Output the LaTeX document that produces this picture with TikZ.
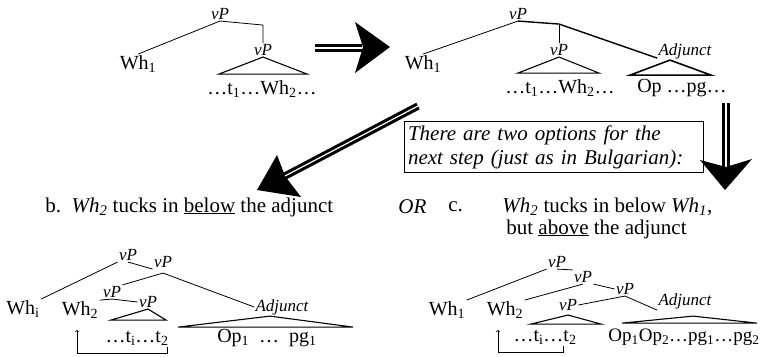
\documentclass[tikz,border=0pt]{standalone}
\usepackage{fontspec}
\setmainfont{Liberation Serif}
\usetikzlibrary{calc}
\newcommand{\sbs}[1]{\textsubscript{#1}}
\tikzset{
  lbl/.style={font=\fontsize{17}{17}\selectfont\itshape, inner sep=1},
  wd/.style={font=\fontsize{20}{20}\selectfont, inner sep=1},
  txt/.style={font=\fontsize{21}{21}\selectfont, inner sep=0},
  tri/.style={draw, line width=1.1, line join=miter},
  shaft/.style={line width=3.1, double=white, double distance=1.2},
  head/.style={fill=black},
  mv/.style={->, line width=0.7},
}

\begin{document}
\begin{tikzpicture}[x=1pt, y=-1pt, line width=0.8]
    \useasboundingbox (0,0) rectangle (767,356);

    % Top left tree
    \node[lbl] (vpA) at (220,14) {vP};
    \node[wd] (whA) at (138,64) {Wh\sbs{1}};
    \node[lbl] (vpB) at (263,50) {vP};
    \node[wd] (tA) at (262,89) {\ldots t\sbs{1}\ldots Wh\sbs{2}\ldots};
    \draw (whA.north) -- (vpA.south) -- ($(vpA.south -| vpB.north)+(0,4)$) -- (vpB.north);
    \draw[tri] (vpB.south) -- ++(-44,17) -- ++(88,0) -- cycle;

    % First arrow
    \coordinate (a1s) at (315,48);
    \coordinate (a1t) at (390,47);
    \draw[shaft] (a1s) -- (362,48);
    \fill[head] (a1t) -- (355,22) -- (363,47) -- (355,73) -- cycle;

    % Top right tree
    \node[lbl] (vpC) at (518,14) {vP};
    \node[wd] (whC) at (423,64) {Wh\sbs{1}};
    \node[lbl] (vpD) at (559,50) {vP};
    \node[lbl] (adjC) at (685,51) {Adjunct};
    \node[wd] (tC) at (560,88) {\ldots t\sbs{1}\ldots Wh\sbs{2}\ldots};
    \node[wd] (opC) at (682,88) {Op \ldots pg\ldots};
    \draw (whC.north) -- (vpC.south);
    \draw[line width=1.4] (vpC.south) -- ($(vpC.south -| vpD.north)+(0,3)$) coordinate (jC) -- ([yshift=2]adjC.south west);
    \draw (jC) -- (vpD.north);
    \draw[tri] (vpD.south) -- ++(-41,16) -- ++(81,0) -- cycle;
    \draw[tri, line width=1.6] ([xshift=-15]adjC.south) -- ++(-40,15) -- ++(81,0) -- cycle;

    % Diagonal arrow
    \coordinate (a2s) at (418,106);
    \coordinate (a2t) at (257,190);
    \draw[shaft] (a2s) -- (285,176);
    \fill[head] (a2t) -- (277,155) -- (285,176) -- (301,197) -- cycle;

    % Box
    \node[draw, line width=0.8, font=\fontsize{21}{24}\selectfont\itshape, align=left,
          inner sep=4, minimum width=299, minimum height=50, text width=291] (box) at (553.5,147)
          {There are two options for the\\ next step (just as in Bulgarian):};

    % Down arrow
    \coordinate (a3s) at (726,103);
    \coordinate (a3t) at (725,190);
    \draw[shaft] (a3s) -- (726,167);
    \fill[head] (a3t) -- (700,160) -- (726,167) -- (752,159) -- cycle;

    % Options
    \node[txt, anchor=west] (bLine) at (45,207) {b.\ \ \textit{Wh\sbs{2}} tucks in \underline{below} the adjunct};
    \node[txt, anchor=west, font=\fontsize{21}{21}\selectfont\itshape] (orL) at (398,207) {OR};
    \node[txt, anchor=west] (cL) at (448,207) {c.};
    \node[txt, anchor=west] (cLine) at (502,207) {\textit{Wh\sbs{2}} tucks in below \textit{Wh\sbs{1}},};
    \node[txt, anchor=west] (cLine2) at (506,229) {but \underline{above} the adjunct};

    % Bottom left tree
    \node[lbl] (vpE) at (128,255) {vP};
    \node[lbl] (vpF) at (163,262) {vP};
    \node[lbl] (vpG) at (112,292) {vP};
    \node[lbl] (vpH) at (148,302) {vP};
    \node[lbl] (adjE) at (282,307) {Adjunct};
    \node[wd] (whE) at (23,309) {Wh\sbs{i}};
    \node[wd] (whF) at (80,310) {Wh\sbs{2}};
    \node[wd] (tE) at (137,338) {\ldots t\sbs{i}\ldots t\sbs{2}};
    \node[wd] (opE) at (267,338) {Op\sbs{1} \ \ldots\ \ pg\sbs{1}};
    \draw (whE.north east) -- (vpE.south west);
    \draw (vpE.south) -- (vpF.south west);
    \draw ([yshift=-4]vpF.south) -- (adjE.west);
    \draw ([yshift=-4]vpF.south) -- (vpG.north east);
    \draw (vpG.south) -- (whF.north east);
    \draw (vpG.south) -- (vpH.west);
    \draw[tri] (vpH.south) -- ++(-37,11) -- ++(55,0) -- cycle;
    \draw[tri] ([xshift=-12]adjE.south) -- ++(-92,11) -- ++(175,0) -- cycle;
    \draw[mv] ([xshift=-3]tE.south east) -- ++(0,7) -| ([xshift=-3,yshift=-10]whF.south);

    % Bottom right tree
    \node[lbl] (vpI) at (557,262) {vP};
    \node[lbl] (vpJ) at (583,277) {vP};
    \node[lbl] (vpK) at (625,289) {vP};
    \node[lbl] (vpL) at (568,305) {vP};
    \node[lbl] (adjI) at (685,301) {Adjunct};
    \node[wd] (whI) at (447,310) {Wh\sbs{1}};
    \node[wd] (whJ) at (505,310) {Wh\sbs{2}};
    \node[wd] (tI) at (545,337) {\ldots t\sbs{i}\ldots t\sbs{2}};
    \node[wd, font=\fontsize{19}{19}\selectfont] (opI) at (684,337) {Op\sbs{1}Op\sbs{2}\ldots pg\sbs{1}\ldots pg\sbs{2}};
    \draw (whI.north east) -- (vpI.south west);
    \draw (vpI.south) -- (vpJ.north west);
    \draw (vpJ.south) -- (whJ.north east);
    \draw (vpJ.south east) -- (vpK.west);
    \draw (vpK.south) -- (vpL.east);
    \draw (vpK.south) -- (adjI.south west);
    \draw[tri] ([yshift=-3]vpL.south) -- ++(-37,9) -- ++(70,0) -- cycle;
    \draw[tri] ([xshift=8,yshift=-6]adjI.south) -- ++(-71,7) -- ++(135,0) -- cycle;
    \draw[mv] ([xshift=-15]tI.south east) -- ++(0,7) -| ([xshift=-7,yshift=-10]whJ.south);
\end{tikzpicture}
\end{document}
